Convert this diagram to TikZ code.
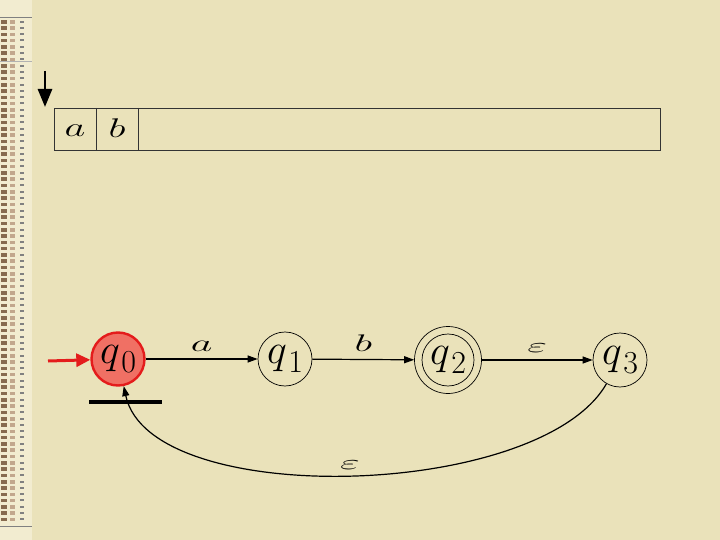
\RequirePackage{fix-cm}
\documentclass[tikz,border=0pt]{standalone}
\usepackage{graphicx}
\usetikzlibrary{arrows.meta}
\definecolor{bg}{RGB}{234,226,186}
\definecolor{strip}{RGB}{242,236,208}
\definecolor{sfill}{RGB}{240,112,100}
\definecolor{sdraw}{RGB}{228,28,28}
\newcommand\wlab[1]{\scalebox{1.75}[1]{$#1$}}
\newcommand\stname[1]{{\fontsize{42}{48}\selectfont$q$}\kern1.5pt\raisebox{-9pt}{\fontsize{32}{36}\selectfont #1}}
\tikzset{
  st/.style={circle,draw=black,line width=0.7pt,minimum size=54pt,inner sep=0pt},
  lab/.style={font=\fontsize{24}{28}\selectfont,inner sep=1pt},
  tape/.style={draw=black!80,line width=0.8pt},
  edge/.style={line width=1.2pt,-{Triangle[length=10pt,width=7pt]}}
}
\begin{document}
\begin{tikzpicture}[x=1pt,y=-1pt]
\fill[bg] (0,0) rectangle (720,540);
\useasboundingbox (0,0) rectangle (720,540);
% left strip
\fill[strip] (0,0) rectangle (32,540);
\draw[black!50,line width=0.6pt] (0,17) -- (32,17);
\draw[black!30,line width=0.5pt] (0,61) -- (32,61);
\draw[black!50,line width=0.6pt] (0,526) -- (32,526);
\foreach \i in {0,...,79} {
  \pgfmathsetmacro{\yy}{20+6.3*\i}
  \fill[black!45!brown!80] (1,\yy) rectangle (6.5,\yy+3.6);
  \fill[black!25!brown!55] (10,\yy) rectangle (15,\yy+3.6);
  \fill[black!50] (20,\yy+0.6) rectangle (24,\yy+2.6);
}
% tape
\draw[tape] (54,108) rectangle (660,150);
\draw[tape] (96,108) -- (96,150);
\draw[tape] (138,108) -- (138,150);
\node[lab,font=\fontsize{27}{30}\selectfont] (ta) at (75,131) {\scalebox{1.5}[1]{$a$}};
\node[lab,font=\fontsize{27}{30}\selectfont] (tb) at (117,128) {\scalebox{1.5}[1]{$b$}};
\coordinate (h1) at (45,71);
\coordinate (h2) at (45,107);
\draw[line width=2.8pt,-{Triangle[length=18pt,width=14pt]}] (h1) -- (h2);
% states
\node[st,fill=sfill,draw=sdraw,line width=2.4pt,minimum size=53pt] (q0) at (118,359) {\stname{0}};
\node[st] (q1) at (285,359) {\stname{1}};
\node[st,minimum size=67pt] (q2) at (448,360) {};
\node[st,minimum size=52pt] (q2i) at (448,360) {\stname{2}};
\node[st] (q3) at (620,360) {\stname{3}};
% start
\coordinate (s0) at (48,361);
\draw[sdraw,line width=3pt,-{Triangle[length=14pt,width=13pt]}] (s0) -- (q0);
\coordinate (b1) at (89,402);
\coordinate (b2) at (162,402);
\draw[line width=4.5pt] (b1) -- (b2);
% edges
\draw[edge] (q0) -- node[lab,above=6pt] {\wlab{a}} (q1);
\draw[edge] (q1) -- node[lab,above=6pt] {\wlab{b}} (q2);
\draw[edge] (q2) -- node[lab,above=6pt] {\scalebox{1.8}[0.85]{$\varepsilon$}} (q3);
\draw[line width=1.2pt,-{Triangle[length=10pt,width=7pt]}] (q3) .. controls (540,500) and (150,510) .. node[pos=0.5,lab,above=4pt] {\scalebox{1.8}[0.85]{$\varepsilon$}} (q0);
\end{tikzpicture}
\end{document}
